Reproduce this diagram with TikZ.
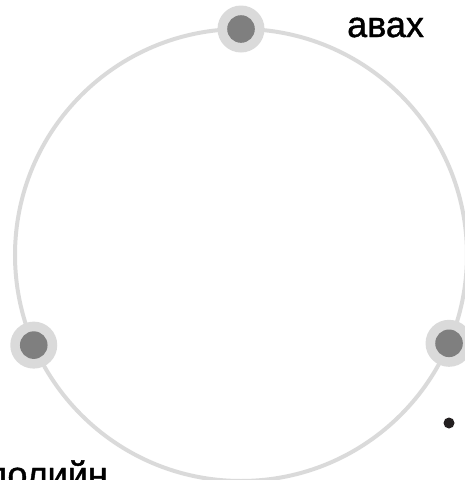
\documentclass[tikz,border=0pt]{standalone}
\usepackage{fontspec}
\usetikzlibrary{calc}
\setmainfont{Liberation Sans}
\newfontfamily\labelfont[FakeBold=1.2]{Liberation Sans}
\definecolor{ringgray}{HTML}{DADADA}
\definecolor{dotgray}{HTML}{7F7F7F}
\definecolor{inkdark}{HTML}{231F20}
\tikzset{
  ringdot/.style={circle, fill=ringgray, minimum size=47pt, inner sep=0pt,
    path picture={\fill[dotgray] (path picture bounding box.center) circle (13.8pt);}},
  bulletdot/.style={circle, fill=inkdark, minimum size=11pt, inner sep=0pt},
  label/.style={font=\labelfont\fontsize{36pt}{40pt}\selectfont, text=black, inner sep=0pt}
}
\begin{document}
\begin{tikzpicture}[x=1pt,y=-1pt]
\useasboundingbox (0,0) rectangle (465,480);
\clip (0,0) rectangle (465,480);
\coordinate (c) at (241,255);
\draw[ringgray, line width=4pt] (c) circle (226pt);
\node[ringdot] (top) at ($(c)+(0,-226)$) {};
\node[ringdot] (left) at ([shift={(203.5:226pt)}]c) {};
\node[ringdot] (right) at ([shift={(-23:226pt)}]c) {};
\node[bulletdot] (b) at (449,423) {};
\node[label, anchor=base west] (t1) at (347,37) {авах};
\node[label, anchor=base east] (t2) at (108,487) {лолийн};
\end{tikzpicture}
\end{document}
